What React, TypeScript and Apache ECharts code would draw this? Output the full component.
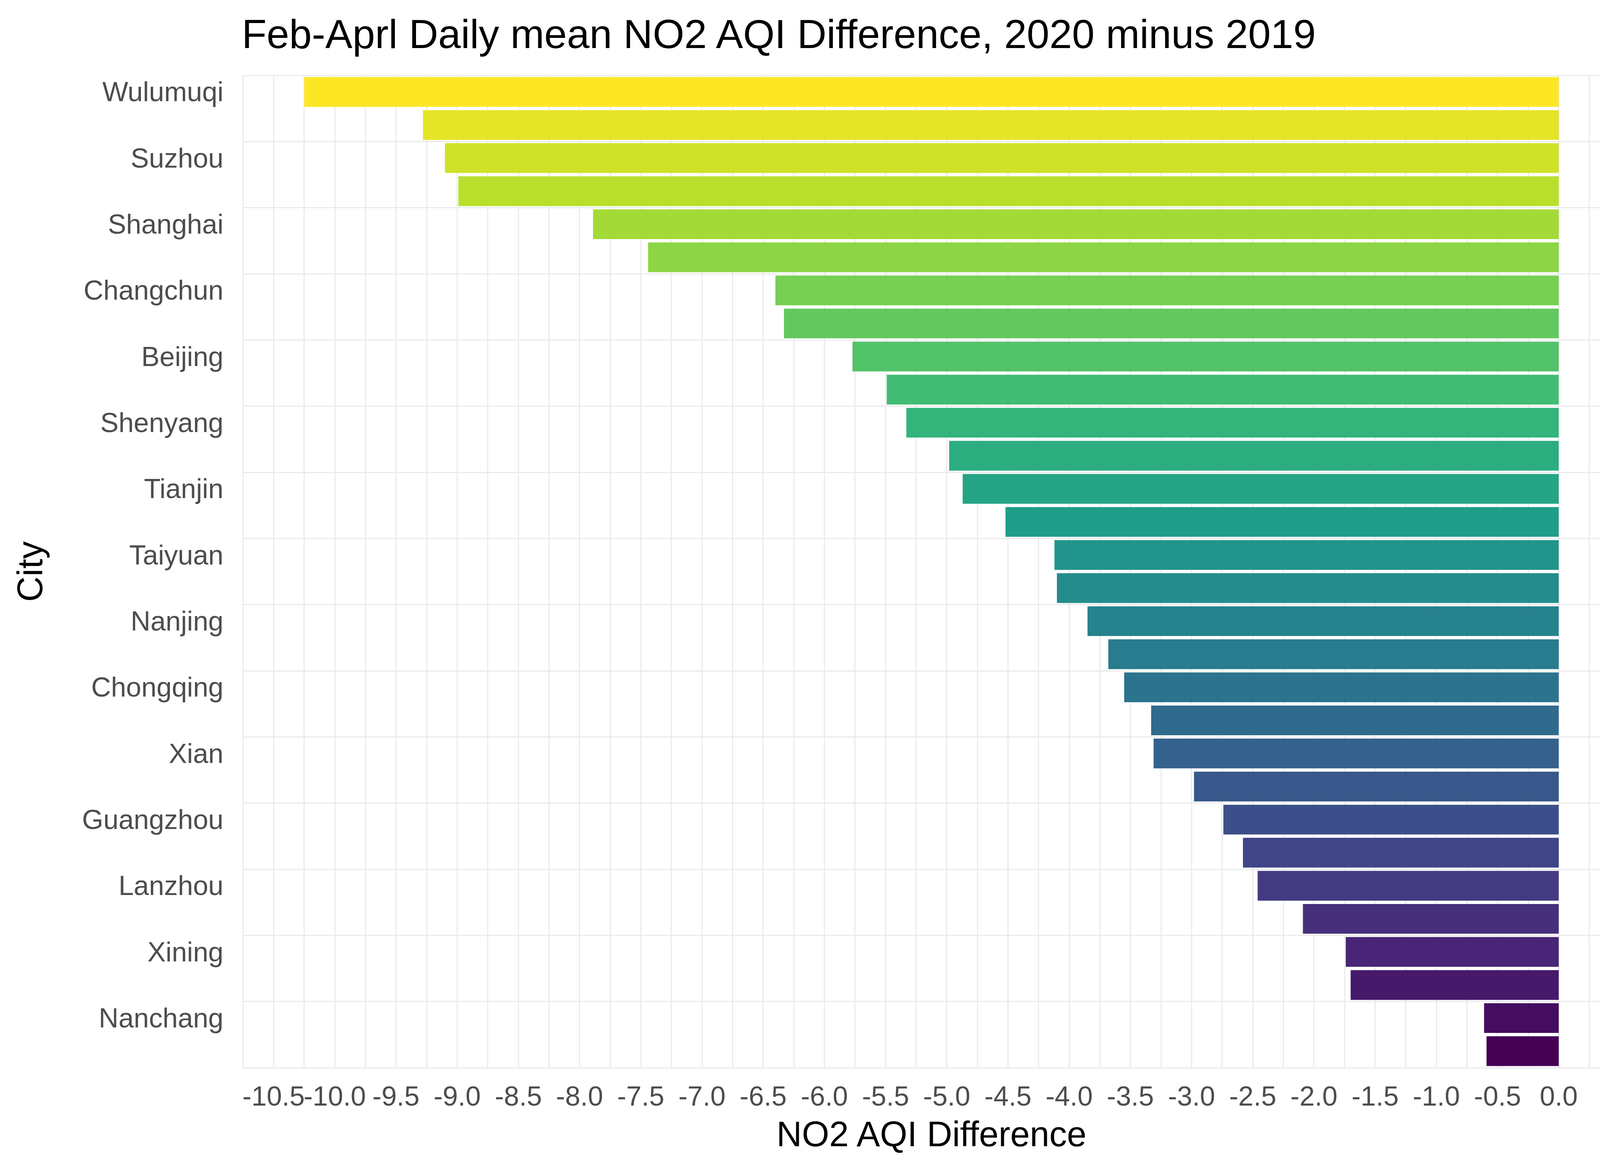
import { useRef, useEffect } from 'react'
import * as echarts from 'echarts'

// cities top to bottom
const CITIES = [
  'Wulumuqi', 'Jinan', 'Suzhou', 'Wuhan', 'Shanghai', 'Zhengzhou', 'Changchun', 'Kunming',
  'Beijing', 'Harbin', 'Shenyang', 'Hefei', 'Tianjin', 'Chengdu', 'Taiyuan', 'Shijiazhuang',
  'Nanjing', 'Nanning', 'Chongqing', 'Fuzhou', 'Xian', 'Guiyang', 'Guangzhou', 'Lhasa',
  'Lanzhou', 'Yinchuan', 'Xining', 'Changsha', 'Nanchang', 'Shenzhen',
]
const DIFFS = [
  -10.25, -9.28, -9.10, -8.99, -7.89, -7.44, -6.40, -6.33,
  -5.77, -5.49, -5.33, -4.98, -4.87, -4.52, -4.12, -4.10,
  -3.85, -3.68, -3.55, -3.33, -3.31, -2.98, -2.74, -2.58,
  -2.46, -2.09, -1.74, -1.70, -0.61, -0.59,
]

const VIRIDIS = ['#440154', '#482878', '#3E4A89', '#31688E', '#26828E', '#1F9E89', '#35B779', '#6DCD59', '#B4DE2C', '#FDE725']

function viridis(t: number): string {
  const p = t * (VIRIDIS.length - 1)
  const i = Math.min(Math.floor(p), VIRIDIS.length - 2)
  const f = p - i
  const a = VIRIDIS[i], b = VIRIDIS[i + 1]
  const ch = (s: string, k: number) => parseInt(s.slice(1 + k * 2, 3 + k * 2), 16)
  const out = [0, 1, 2].map(k => Math.round(ch(a, k) + (ch(b, k) - ch(a, k)) * f).toString(16).padStart(2, '0'))
  return '#' + out.join('')
}

export default function App() {
  const ref = useRef<HTMLDivElement>(null)

  useEffect(() => {
    document.body.style.margin = '0'
    if (!ref.current) return
    const chart = echarts.init(ref.current, null, { renderer: 'svg' })
    const n = CITIES.length
    chart.setOption({
      animation: false,
      backgroundColor: '#ffffff',
      textStyle: { fontFamily: 'Arial, Liberation Sans, sans-serif' },
      title: {
        text: 'Feb-Aprl Daily mean NO2 AQI Difference, 2020 minus 2019',
        left: 614, top: 30,
        textStyle: { fontSize: 104, fontWeight: 'normal', color: '#000' },
      },
      grid: { left: 622, right: 53, top: 193, bottom: 267 },
      xAxis: {
        type: 'value',
        min: -10.75, max: 0.5, interval: 0.25,
        name: 'NO2 AQI Difference', nameLocation: 'middle', nameGap: 125,
        nameTextStyle: { fontSize: 90, color: '#000' },
        axisLine: { show: false }, axisTick: { show: false },
        axisLabel: {
          fontSize: 70, color: '#4d4d4d', margin: 38,
          formatter: (v: number) => (Math.abs(Math.round(v * 2) - v * 2) < 1e-6 ? v.toFixed(1) : ''),
        },
        splitLine: { lineStyle: { color: '#ebebeb', width: 3 } },
      },
      yAxis: {
        type: 'category', inverse: true, data: CITIES,
        name: 'City', nameLocation: 'middle', nameGap: 500, nameRotate: 90,
        nameTextStyle: { fontSize: 90, color: '#000' },
        axisLine: { show: false }, axisTick: { show: false },
        axisLabel: { fontSize: 70, color: '#4d4d4d', margin: 50 },
        splitLine: { show: true, lineStyle: { color: '#ebebeb', width: 3 } },
      },
      series: [{
        type: 'bar',
        barCategoryGap: '10%',
        data: DIFFS.map((v, i) => ({
          value: v,
          itemStyle: { color: viridis((n - 1 - i) / (n - 1)) },
        })),
      }],
    })
    return () => chart.dispose()
  }, [])

  return <div ref={ref} style={{ width: 4200, height: 3000 }} />
}
